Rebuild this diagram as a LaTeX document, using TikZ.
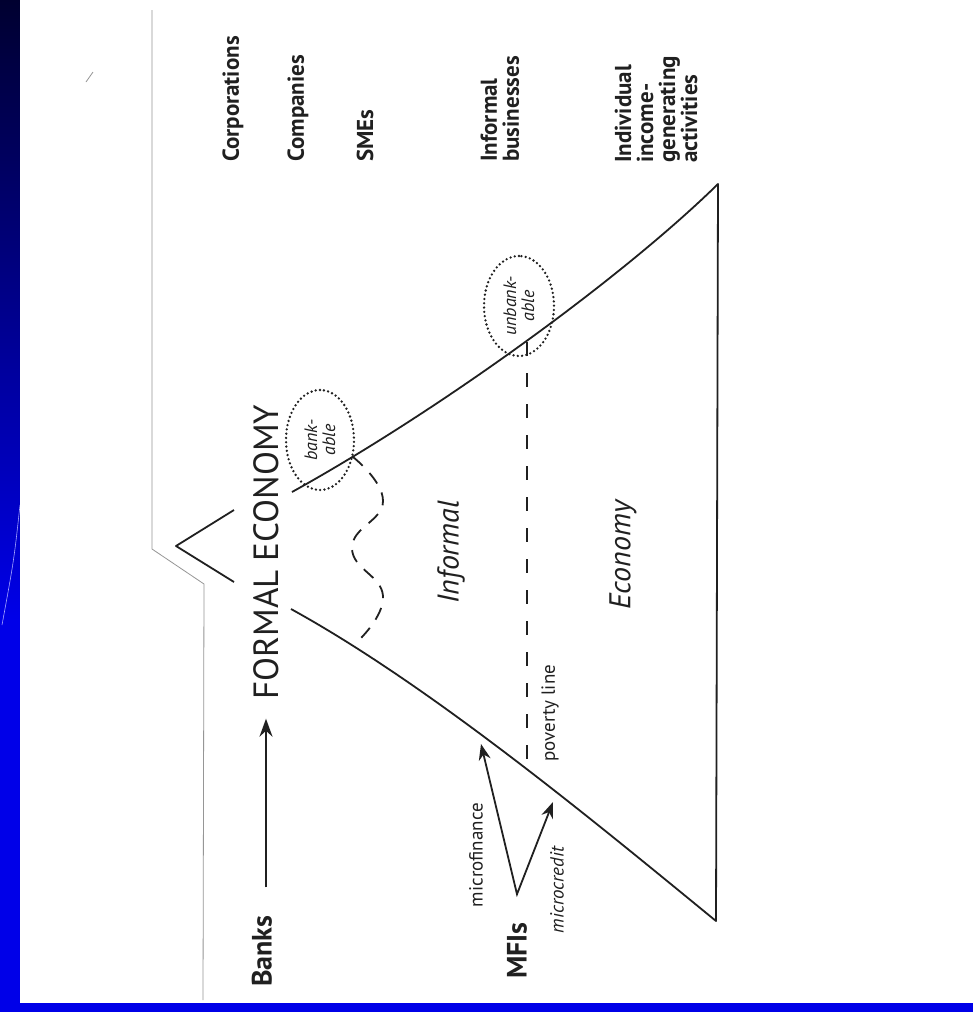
\documentclass[tikz,border=0pt]{standalone}
\usepackage{fontspec}
\setmainfont{PT Sans}
\usepackage{tikz}
\usetikzlibrary{arrows.meta,shapes.geometric}
\definecolor{slideblue}{RGB}{0,0,232}
\definecolor{slidenavy}{RGB}{0,0,48}
\definecolor{inkgray}{RGB}{32,32,32}
\definecolor{edgegray}{RGB}{150,150,150}
\tikzset{
  mountain-line/.style={draw=inkgray, line width=1.8pt, line join=round},
  level-label/.style={rotate=90, anchor=west, inner sep=0pt, align=left, text=inkgray,
    font=\bfseries\fontsize{23}{22}\selectfont},
  actor-label/.style={rotate=90, anchor=west, inner sep=0pt, text=inkgray,
    font=\bfseries\fontsize{28}{30}\selectfont},
  region-label/.style={rotate=90, inner sep=0pt, text=inkgray,
    font=\itshape\fontsize{30}{32}\selectfont},
  small-label/.style={rotate=90, inner sep=0pt, text=inkgray,
    font=\fontsize{19}{20}\selectfont},
  bank-oval/.style={ellipse, rotate=90, draw=inkgray, line width=2.6pt, line cap=round,
    dash pattern=on 0pt off 4.3pt, minimum width=100pt, minimum height=68pt,
    inner sep=0pt, align=center, text=inkgray, font=\itshape\fontsize{18}{18}\selectfont},
  bank-arrow/.style={-{Stealth[length=18pt,width=13pt]}, line width=1.8pt, draw=inkgray},
  mfi-arrow/.style={{Stealth[length=16pt,width=12pt]}-{Stealth[length=16pt,width=12pt]},
    line width=1.8pt, draw=inkgray},
  wave-line/.style={draw=inkgray, line width=1.8pt, dash pattern=on 13pt off 10pt},
  poverty-line/.style={draw=inkgray, line width=1.8pt, dash pattern=on 14pt off 17pt},
  page-edge/.style={draw=edgegray, line width=0.8pt}
}

\begin{document}
\begin{tikzpicture}[x=1pt, y=-1pt]
\useasboundingbox (0,0) rectangle (973,1012);
\fill[slideblue] (0,0) rectangle (973,1012);
\shade[top color=slidenavy, bottom color=slideblue] (0,0) rectangle (20,620);
\draw[blue!35!white, line width=0.6pt] (20,505) .. controls (14,560) .. (2,625);
\fill[white] (20,0) rectangle (973,1003);

\draw[page-edge] (152,10) -- (152,549) -- (204,584) -- (203,1000);
\draw[page-edge] (86,82) -- (93,72);

\node[level-label] (corp) at (233,162) {Corporations};
\node[level-label] (comp) at (298,162) {Companies};
\node[level-label] (smes) at (365,162) {SMEs};
\node[level-label] (infbus) at (500,162) {Informal\\businesses};
\node[level-label] (indiv) at (656,163) {Individual\\income-\\generating\\activities};

\draw[mountain-line] (292,492) .. controls (435,413) and (620,280) .. (718,184)
  -- (716,921) .. controls (595,822) and (431,686) .. (291,609);
\draw[mountain-line] (234,510) -- (176,546) -- (234,582);

\node[rotate=90, inner sep=0pt, text=inkgray, font=\fontsize{35}{36}\selectfont]
  (formal) at (266,552) {FORMAL ECONOMY};
\node[region-label] (informal) at (451,552) {Informal};
\node[region-label] (economy) at (623,555) {Economy};

\node[bank-oval] (bankable) at (320,440) {bank-\\able};
\node[bank-oval, minimum height=70pt] (unbankable) at (519,306) {unbank-\\able};

\draw[wave-line] plot[smooth, tension=0.8] coordinates {(353,457) (383,501) (352,548) (383,596) (358,641)};
\coordinate (pov-top) at (527,342);
\coordinate (pov-bot) at (527,767);
\draw[poverty-line] (pov-top) -- (pov-bot);
\node[small-label, anchor=west] (poverty) at (550,762) {poverty line};

\node[actor-label] (banks) at (262,987) {Banks};
\draw[bank-arrow, shorten <=28pt, shorten >=19pt] (banks.east -| formal.west) -- (formal.west);

\node[actor-label] (mfis) at (517,979) {MFIs};
\coordinate (fork) at ([yshift=28pt]mfis.east);
\coordinate (fin-tip) at (481,744);
\coordinate (cred-tip) at (553,802);
\draw[mfi-arrow] (fin-tip) -- (fork) -- (cred-tip);
\node[small-label] (microfin) at (476,855) {microfinance};
\node[small-label, font=\itshape\fontsize{19}{20}\selectfont] (microcred) at (557,890) {microcredit};
\end{tikzpicture}
\end{document}
